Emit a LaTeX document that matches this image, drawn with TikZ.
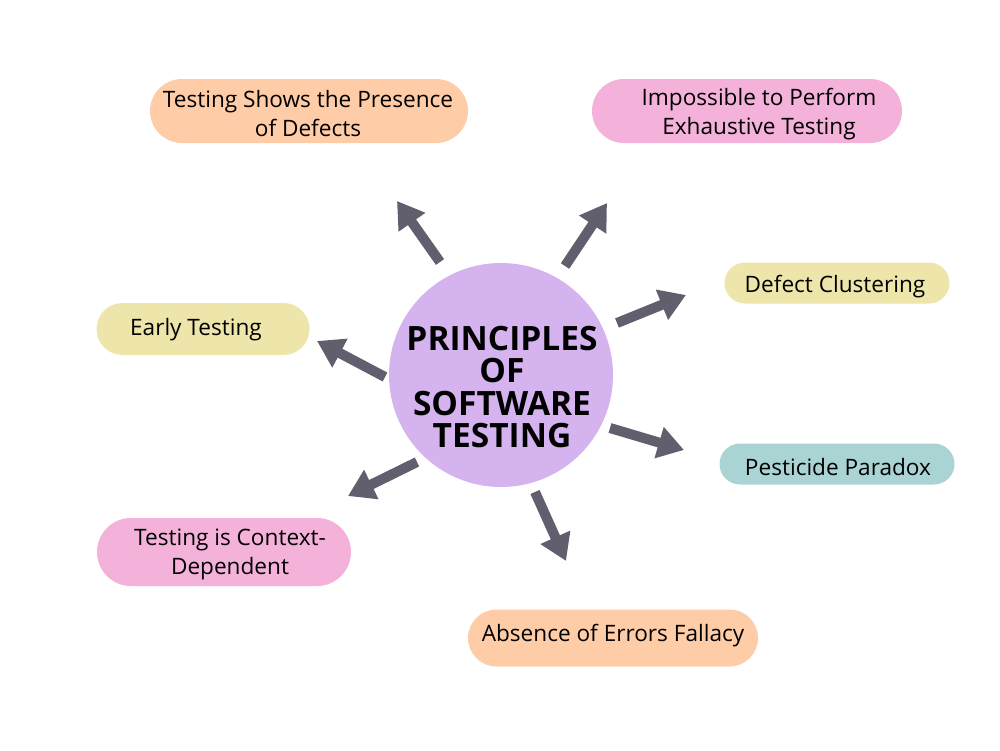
\documentclass[tikz,border=0pt]{standalone}
\usepackage{fontspec}
\setmainfont{Open Sans}
\usetikzlibrary{arrows.meta}
\definecolor{peach}{HTML}{FFCCA8}
\definecolor{pinkb}{HTML}{F4B2DB}
\definecolor{yellowb}{HTML}{EEE5AB}
\definecolor{tealb}{HTML}{A9D4D3}
\definecolor{lav}{HTML}{D4B3EF}
\definecolor{arr}{HTML}{615F6E}
\begin{document}
\begin{tikzpicture}[x=1pt,y=-1pt,
  pill/.style={inner sep=0pt, draw=none},
  lbl/.style={align=center, font=\fontsize{22.6}{29}\selectfont, text=black, inner sep=0pt},
  bigarrow/.style={draw=arr, line width=10pt, line cap=butt, -{Triangle[length=26pt,width=31pt]}}]
\useasboundingbox (0,0) rectangle (1000,750);
\fill[white] (0,0) rectangle (1000,750);
% central circle
\node[circle, fill=lav, minimum size=224pt, inner sep=0pt] (c) at (501,375) {};
\node[align=center, inner sep=0pt, font=\bfseries\fontsize{33.5}{32.5}\selectfont] (title) at (502,387) {PRINCIPLES\\OF\\SOFTWARE\\TESTING};
% boxes
\node[pill, fill=peach, minimum width=318pt, minimum height=64pt, rounded corners=32pt] (b1) at (309,111) {};
\node[lbl] (t1) at (308,114) {Testing Shows the Presence\\of Defects};
\node[pill, fill=pinkb, minimum width=310pt, minimum height=64pt, rounded corners=32pt] (b2) at (747,111) {};
\node[lbl] (t2) at (759,114) {Impossible to Perform\\Exhaustive Testing};
\node[pill, fill=yellowb, minimum width=225pt, minimum height=41pt, rounded corners=20.5pt] (b3) at (837,283) {};
\node[lbl] (t3) at (835,287) {Defect Clustering};
\node[pill, fill=yellowb, minimum width=213pt, minimum height=52pt, rounded corners=26pt] (b4) at (203,329) {};
\node[lbl] (t4) at (196,329.5) {Early Testing};
\node[pill, fill=tealb, minimum width=235pt, minimum height=41pt, rounded corners=20.5pt] (b5) at (837,464) {};
\node[lbl] (t5) at (838,467.5) {Pesticide Paradox};
\node[pill, fill=pinkb, minimum width=254pt, minimum height=68pt, rounded corners=34pt] (b6) at (224,552) {};
\node[lbl] (t6) at (230,554.5) {Testing is Context-\\Dependent};
\node[pill, fill=peach, minimum width=290pt, minimum height=57pt, rounded corners=28.5pt] (b7) at (613,638) {};
\node[lbl] (t7) at (613,635.5) {Absence of Errors Fallacy};
% arrow coordinates
\coordinate (s1) at (440,262); \coordinate (e1) at (397,201);
\coordinate (s2) at (565,266); \coordinate (e2) at (607,203);
\coordinate (s3) at (617,323); \coordinate (e3) at (686,295);
\coordinate (s4) at (385,377); \coordinate (e4) at (317,341);
\coordinate (s5) at (610,428); \coordinate (e5) at (684,450);
\coordinate (s6) at (417,462); \coordinate (e6) at (348,496);
\coordinate (s7) at (535,492); \coordinate (e7) at (566,561);
\foreach \i in {1,...,7} {\draw[bigarrow] (s\i) -- (e\i);}
\end{tikzpicture}
\end{document}
